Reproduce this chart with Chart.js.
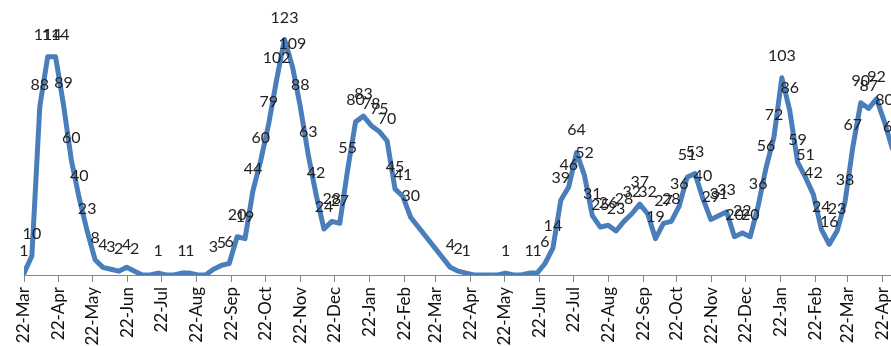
<!DOCTYPE html>
<html>
<head>
<meta charset="utf-8">
<script src="https://cdn.jsdelivr.net/npm/chart.js@4/dist/chart.umd.min.js"></script>
<style>
  html, body { margin: 0; padding: 0; background: #ffffff; }
  #wrap { width: 891px; height: 346px; overflow: hidden; position: relative; }
  canvas { display: block; }
</style>
</head>
<body>
<div id="wrap"><canvas id="c" width="960" height="346"></canvas></div>
<script>
// Weekly case counts, one value per week starting 22 Mar 2020 (null = no report)
const firstWeek = '2020-03-22';
const weeklyCases = [
  1, 10, 88, 114, 114, 89, 60, 40, 23, 8, 4, 3, 2, 4, 2,
  0, 0, 1, 0, 0, 1, 1, 0, 0, 3, 5, 6, 20, 19,
  44, 60, 79, 102, 123, 109, 88, 63, 42, 24, 28, 27, 55, 80, 83, 78, 75, 70, 45, 41, 30,
  null, null, null, null,
  4, 2, 1, 0, 0, 0, 0, 1, 0, 0, 1, 1,
  6, 14, 39, 46, 64, 52, 31, 25, 26, 23, 28, 32, 37, 32, 19,
  27, 28, 36, 51, 53, 40, 29, 31, 33, 20, 22, 20, 36, 56, 72,
  103, 86, 59, 51, 42, 24, 16, 23, 38, 67, 90, 87, 92, 80, 66
];

// Monthly axis ticks (the 22nd of each month)
const tickDates = [
  '2020-03-22', '2020-04-22', '2020-05-22', '2020-06-22', '2020-07-22', '2020-08-22',
  '2020-09-22', '2020-10-22', '2020-11-22', '2020-12-22', '2021-01-22', '2021-02-22',
  '2021-03-22', '2021-04-22', '2021-05-22', '2021-06-22', '2021-07-22', '2021-08-22',
  '2021-09-22', '2021-10-22', '2021-11-22', '2021-12-22', '2022-01-22', '2022-02-22',
  '2022-03-22', '2022-04-22'
];
const tickLabels = [
  '22-Mar', '22-Apr', '22-May', '22-Jun', '22-Jul', '22-Aug', '22-Sep', '22-Oct',
  '22-Nov', '22-Dec', '22-Jan', '22-Feb', '22-Mar', '22-Apr', '22-May', '22-Jun',
  '22-Jul', '22-Aug', '22-Sep', '22-Oct', '22-Nov', '22-Dec', '22-Jan', '22-Feb',
  '22-Mar', '22-Apr'
];

const DAY = 86400000;
const origin = Date.parse(firstWeek + 'T00:00:00Z');
const dayOf = s => Math.round((Date.parse(s + 'T00:00:00Z') - origin) / DAY);
const tickDays = tickDates.map(dayOf);
const points = weeklyCases.map((v, i) => ({ x: i * 7, y: v }));

const FONT = 'Lato, "Liberation Sans", sans-serif';

// Value labels above each non-zero point
const valueLabels = {
  id: 'valueLabels',
  afterDatasetsDraw(chart) {
    const ctx = chart.ctx;
    const meta = chart.getDatasetMeta(0);
    ctx.save();
    ctx.font = '16px ' + FONT;
    ctx.fillStyle = '#222222';
    ctx.textAlign = 'center';
    ctx.textBaseline = 'alphabetic';
    meta.data.forEach((pt, i) => {
      const v = weeklyCases[i];
      if (v === null || v === 0) return;
      ctx.fillText(String(v), pt.x, pt.y - 17);
    });
    ctx.restore();
  }
};

new Chart(document.getElementById('c'), {
  type: 'line',
  data: {
    datasets: [{
      data: points,
      borderColor: '#4a7ebb',
      borderWidth: 5,
      borderJoinStyle: 'round',
      borderCapStyle: 'round',
      pointRadius: 0,
      tension: 0,
      spanGaps: true,
      fill: false
    }]
  },
  options: {
    responsive: false,
    animation: false,
    devicePixelRatio: 1,
    layout: { padding: { left: 24, top: 7, right: 0, bottom: 0 } },
    plugins: { legend: { display: false }, tooltip: { enabled: false } },
    scales: {
      x: {
        type: 'linear',
        min: 0,
        max: 830,
        afterBuildTicks(scale) {
          scale.ticks = tickDays.map(d => ({ value: d }));
        },
        afterFit(scale) { scale.height = 71; },
        grid: {
          display: true,
          drawOnChartArea: false,
          drawTicks: true,
          tickLength: 7,
          color: '#868686',
          lineWidth: 1
        },
        border: { display: true, color: '#868686', width: 1 },
        ticks: {
          autoSkip: false,
          maxRotation: 90,
          minRotation: 90,
          padding: 5,
          color: '#111111',
          font: { family: FONT, size: 17 },
          callback: (value, index) => tickLabels[index]
        }
      },
      y: {
        display: false,
        min: 0,
        max: 140
      }
    }
  },
  plugins: [valueLabels]
});
</script>
</body>
</html>
